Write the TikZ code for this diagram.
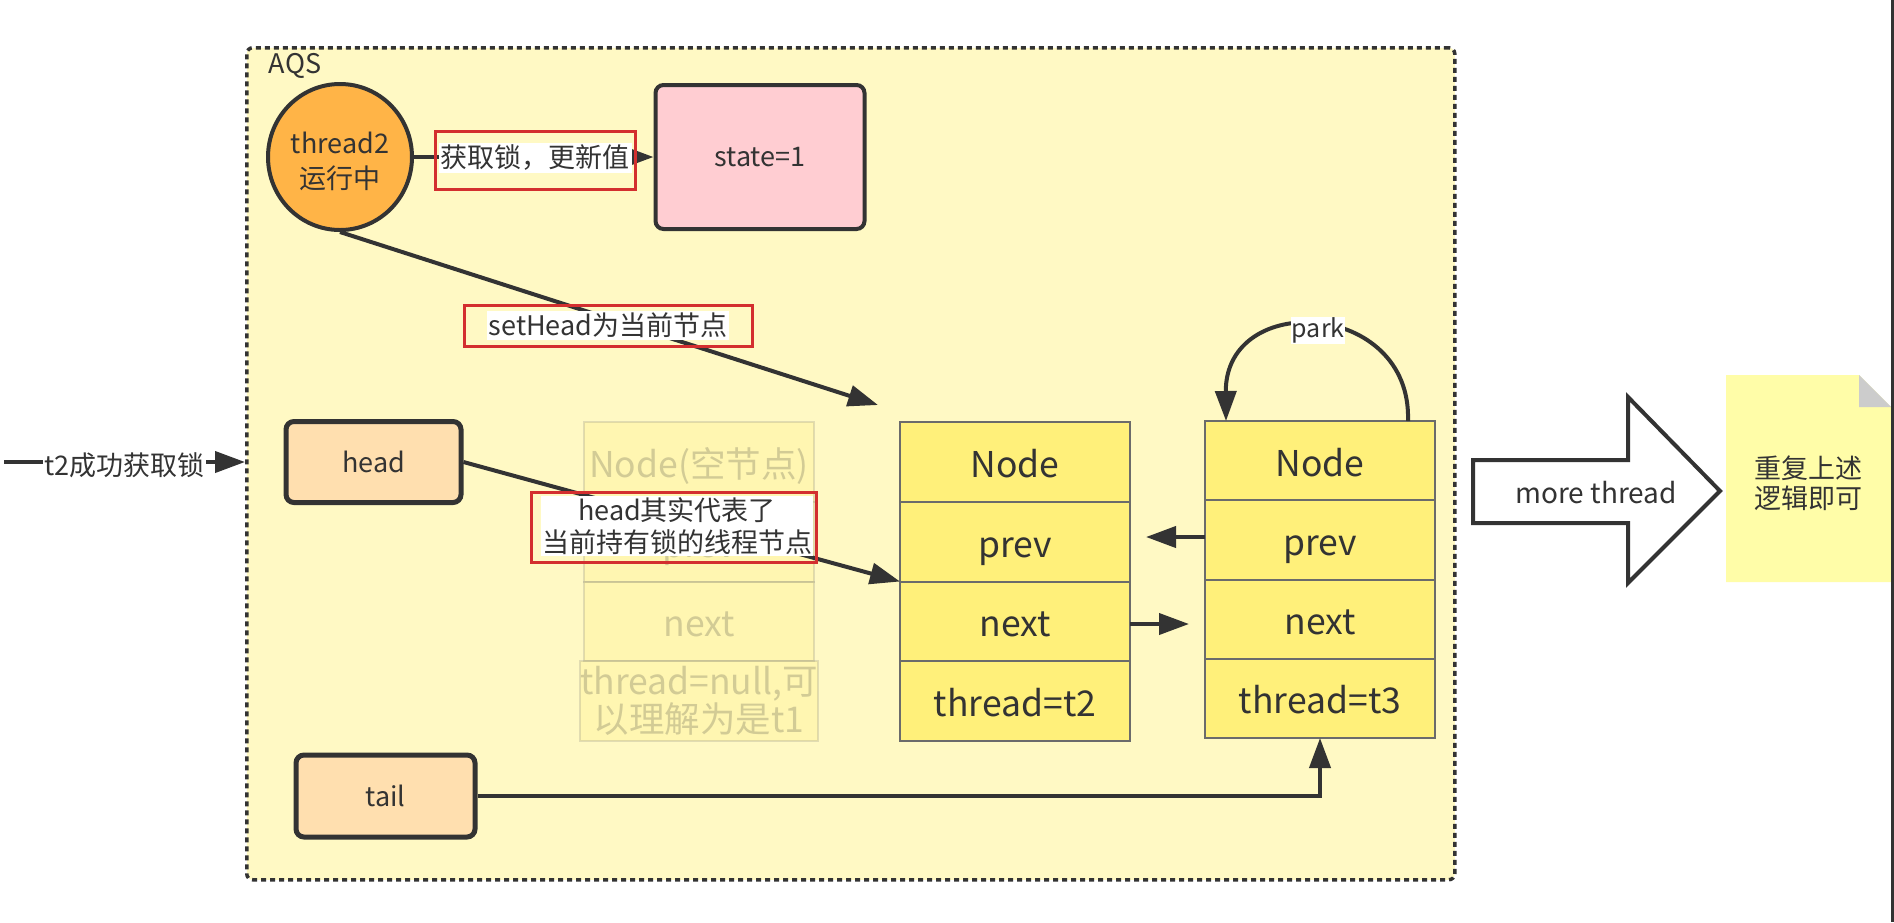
\documentclass[tikz,border=0pt]{standalone}
\usepackage{fontspec}
\setmainfont{Noto Sans CJK SC}
\usetikzlibrary{arrows.meta,shapes.geometric,calc}
\definecolor{ink}{HTML}{333333}
\definecolor{aqsbg}{HTML}{FFF9C4}
\definecolor{orangec}{HTML}{FFB447}
\definecolor{pinkc}{HTML}{FFCDD2}
\definecolor{peach}{HTML}{FFDFAF}
\definecolor{nodey}{HTML}{FFF07A}
\definecolor{cellline}{HTML}{6B6B6B}
\definecolor{redc}{HTML}{D32F2F}
\definecolor{notec}{HTML}{FFFDA8}
\definecolor{foldc}{HTML}{CCCCCC}
\newcommand{\myS}{\fontsize{27pt}{32pt}\selectfont}
\newcommand{\myB}{\fontsize{35.5pt}{38pt}\selectfont}
\tikzset{
  arr/.style={draw=ink, line width=4pt, -{Triangle[length=30pt,width=21pt]}},
  redbox/.style={draw=redc, line width=3pt, inner sep=0pt},
  lbl/.style={fill=white, text=ink, font=\myS, inner sep=2pt, align=center},
  ptr/.style={draw=ink, line width=5pt, fill=peach, rounded corners=8pt, inner sep=0pt, text=ink, font=\myS},
  cell/.style={draw=cellline, line width=2pt, fill=nodey, minimum width=230pt, inner sep=0pt, outer sep=0pt, text=ink, font=\myB, anchor=north, align=center},
  one/.style={text height=31pt, text depth=0pt},
  fade/.style={draw opacity=0.2, fill opacity=0.25, text opacity=0.22}
}
\begin{document}
\begin{tikzpicture}[x=1pt,y=-1pt]
\useasboundingbox (0,0) rectangle (1894,922);
\fill[white] (0,0) rectangle (1894,922);
% container
\node[draw=ink, fill=aqsbg, dash pattern=on 5pt off 4pt, line width=3.5pt, rounded corners=6pt,
      minimum width=1208pt, minimum height=832pt, anchor=north west, inner sep=0pt] (aqs) at (245,46) {};
\node[text=ink, font=\myS, inner sep=0pt] (aqslbl) at (295,66) {AQS};
% thread2 and state
\node[ellipse, draw=ink, line width=4pt, fill=orangec, minimum width=144pt, minimum height=146pt,
      inner sep=0pt, text=ink] (t2c) at (340,157) {};
\node[align=center, text=ink, font=\fontsize{27pt}{35pt}\selectfont, inner sep=0pt] (t2ctxt) at (340,161) {thread2\\运行中};
\node[draw=ink, fill=pinkc, line width=4pt, rounded corners=8pt, minimum width=209pt, minimum height=144pt,
      inner sep=0pt, text=ink, font=\myS] (state) at (760,157) {state=1};
\draw[arr] (t2c.east) -- (state.west);
\node[redbox, minimum width=200pt, minimum height=58pt] (lab1box) at (535,160) {};
\node[lbl] (lab1) at (535,158) {获取锁，更新值};
% setHead
\coordinate (shEnd) at (878,405);
\draw[arr] (t2c.south) -- (shEnd);
\node[redbox, minimum width=288pt, minimum height=41pt] (lab2box) at (608,325.5) {};
\node[lbl] (lab2) at (608,325) {setHead为当前节点};
% faded empty node
\node[cell, one, fade, minimum height=79.75pt] (f1) at (699,422) {Node(空节点)};
\node[cell, one, fade, minimum height=79.75pt] (f2) at (f1.south) {prev};
\node[cell, one, fade, minimum height=79.75pt] (f3) at (f2.south) {next};
\node[cell, fade, minimum height=79.75pt] (f4) at (f3.south) {thread=null,可\\以理解为是t1};
% Node t2
\node[cell, one, minimum height=79.75pt] (n1a) at (1015,422) {Node};
\node[cell, one, minimum height=79.75pt] (n1b) at (n1a.south) {prev};
\node[cell, one, minimum height=79.75pt] (n1c) at (n1b.south) {next};
\node[cell, one, minimum height=79.75pt] (n1d) at (n1c.south) {thread=t2};
% Node t3
\node[cell, one, minimum height=79.25pt] (n2a) at (1320,421) {Node};
\node[cell, one, minimum height=79.25pt] (n2b) at (n2a.south) {prev};
\node[cell, one, minimum height=79.25pt] (n2c) at (n2b.south) {next};
\node[cell, one, minimum height=79.25pt] (n2d) at (n2c.south) {thread=t3};
% head / tail
\node[ptr, minimum width=175pt, minimum height=81pt] (head) at (373.5,462) {head};
\node[ptr, minimum width=179pt, minimum height=82pt] (tail) at (385.5,796) {tail};
\draw[arr] (head.east) -- (n1b.south west);
\node[redbox, minimum width=285pt, minimum height=70pt] (lab3box) at (673.5,527) {};
\node[lbl, inner sep=1pt] (lab3) at (677,526) {head其实代表了\\当前持有锁的线程节点};
\draw[arr, rounded corners=0pt] (tail.east) -| (n2d.south);
% prev / next links
\coordinate (pEnd) at (1146,537);
\coordinate (nEnd) at (1189,624);
\draw[arr] (n2b.west |- pEnd) -- (pEnd);
\draw[arr] (n1c.east |- nEnd) -- (nEnd);
% park loop
\coordinate (pkS) at (1408,421);
\coordinate (pkE) at (1226,421);
\draw[arr] (pkS) .. controls (1412,300) and (1225,290) .. (pkE)
  node[pos=0.5, fill=white, text=ink, font=\fontsize{25pt}{30pt}\selectfont, inner sep=1pt, yshift=-4pt] (parklbl) {park};
% t2 success arrow
\coordinate (tS) at (4,462);
\draw[arr] (tS) -- (tS -| aqs.west)
  node[midway, fill=white, text=ink, font=\myS, inner sep=1pt, yshift=-3pt] (t2lbl) {t2成功获取锁};
% big arrow
\draw[draw=ink, fill=white, line width=4pt, line join=miter]
  (1473,460) -- (1628,460) -- (1628,397) -- (1720,491) -- (1628,583) -- (1628,523) -- (1473,523) -- cycle;
\node[text=ink, font=\fontsize{28pt}{32pt}\selectfont, inner sep=0pt] (more) at (1596,493) {more thread};
% note
\fill[notec] (1726,375) -- (1859,375) -- (1891,407) -- (1891,582) -- (1726,582) -- cycle;
\fill[foldc] (1859,375) -- (1891,407) -- (1859,407) -- cycle;
\node[text=ink, font=\fontsize{27pt}{30pt}\selectfont, align=center, inner sep=0pt] (notetxt) at (1808,483) {重复上述\\逻辑即可};
% right edge
\fill[ink] (1891,0) rectangle (1894,922);
\end{tikzpicture}
\end{document}
